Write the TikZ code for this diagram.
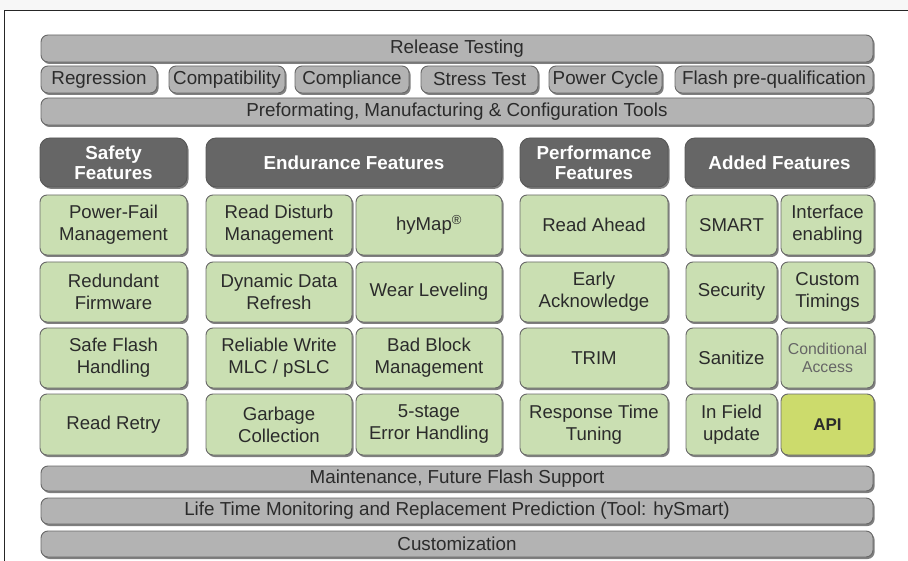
\documentclass[tikz,border=0pt]{standalone}
\usepackage{fontspec}
\setmainfont{Liberation Sans}
\usetikzlibrary{shadows}
\definecolor{barfill}{HTML}{B3B3B3}
\definecolor{barline}{HTML}{686868}
\definecolor{hdrfill}{HTML}{666666}
\definecolor{grnfill}{HTML}{CADFB2}
\definecolor{apifill}{HTML}{CCDB6C}
\definecolor{txt}{HTML}{2B2B2B}
\definecolor{lighttxt}{HTML}{666666}
\tikzset{
  base/.style={draw=barline, line width=0.9pt, rounded corners=7pt, inner sep=0pt, align=center, text=txt,
    drop shadow={shadow xshift=1.6pt, shadow yshift=-2pt, fill=black, opacity=0.5}},
  bar/.style={base, fill=barfill, font=\fontsize{18.8}{20}\selectfont},
  hdr/.style={base, fill=hdrfill, draw=hdrfill!85!black, rounded corners=10pt, text=white,
    font=\bfseries\fontsize{18.8}{20}\selectfont},
  grn/.style={base, fill=grnfill, font=\fontsize{18.6}{22}\selectfont},
  apibox/.style={grn, fill=apifill, font=\bfseries\fontsize{17}{18}\selectfont},
  dimtext/.style={font=\fontsize{15.8}{17.5}\selectfont, text=lighttxt},
}
\newcommand\boxat[7]{\node[#1, minimum width={(#5-#3)*1pt}, minimum height={(#6-#4)*1pt}] (#2) at ({(#3+#5)/2},{(#4+#6)/2}) {#7};}
\begin{document}
\begin{tikzpicture}[x=1pt,y=-1pt]
\useasboundingbox (0,0) rectangle (908,561);
\fill[black!3] (0,0) rectangle (908,10.5);
\draw[line width=1pt, black!85] (4.5,561) -- (4.5,11) -- (908,11);
% top bars
\boxat{bar}{rel}{41}{35}{873}{62}{Release Testing}
\boxat{bar}{reg}{41}{66}{157}{93}{Regression}
\boxat{bar}{compat}{169}{66}{285}{93}{Compatibility}
\boxat{bar}{compl}{295}{66}{409}{93}{Compliance}
\boxat{bar}{stress}{421}{66}{538}{93}{Stress Test}
\boxat{bar}{power}{549}{66}{662}{93}{Power Cycle}
\boxat{bar}{flash}{675}{66}{873}{93}{Flash pre-qualification}
\boxat{bar}{pre}{41}{98}{873}{125}{Preformating, Manufacturing \& Configuration Tools}
% headers
\boxat{hdr}{safety}{40}{138}{187}{187}{Safety\\Features}
\boxat{hdr}{endur}{206}{138}{502}{187}{Endurance Features}
\boxat{hdr}{perf}{520}{138}{668}{187}{Performance\\Features}
\boxat{hdr}{added}{685}{138}{874}{187}{Added Features}
% row 1
\boxat{grn}{pf}{40}{195}{187}{255}{Power-Fail\\Management}
\boxat{grn}{rd}{206}{195}{352}{255}{Read Disturb\\Management}
\boxat{grn}{hymap}{356}{195}{502}{255}{hyMap\textsuperscript{®}}
\boxat{grn}{ra}{520}{195}{668}{255}{Read Ahead}
\boxat{grn}{smart}{686}{195}{777}{255}{SMART}
\boxat{grn}{iface}{781}{195}{874}{255}{Interface\\enabling}
% row 2
\boxat{grn}{rf}{40}{262}{187}{322}{Redundant\\Firmware}
\boxat{grn}{ddr}{206}{262}{352}{322}{Dynamic Data\\Refresh}
\boxat{grn}{wl}{356}{262}{502}{322}{Wear Leveling}
\boxat{grn}{ea}{520}{262}{668}{322}{Early\\Acknowledge}
\boxat{grn}{sec}{686}{262}{777}{322}{Security}
\boxat{grn}{ct}{781}{262}{874}{322}{Custom\\Timings}
% row 3
\boxat{grn}{sfh}{40}{328}{187}{388}{Safe Flash\\Handling}
\boxat{grn}{rw}{206}{328}{352}{388}{Reliable Write\\MLC / pSLC}
\boxat{grn}{bb}{356}{328}{502}{388}{Bad Block\\Management}
\boxat{grn}{trim}{520}{328}{668}{388}{TRIM}
\boxat{grn}{san}{686}{328}{777}{388}{Sanitize}
\boxat{grn, dimtext}{ca}{781}{328}{874}{388}{Conditional\\Access}
% row 4
\boxat{grn}{rr}{40}{394}{187}{455}{Read Retry}
\boxat{grn}{gc}{206}{394}{352}{455}{Garbage\\Collection}
\boxat{grn}{eh}{356}{394}{502}{455}{5-stage\\Error Handling}
\boxat{grn}{rt}{520}{394}{668}{455}{Response Time\\Tuning}
\boxat{grn}{ifu}{686}{394}{777}{455}{In Field\\update}
\boxat{apibox}{api}{781}{394}{874}{455}{API}
% bottom bars
\boxat{bar}{maint}{41}{466}{873}{491}{Maintenance, Future Flash Support}
\boxat{bar}{life}{41}{498}{873}{524}{Life Time Monitoring and Replacement Prediction (Tool: hySmart)}
\boxat{bar}{cust}{41}{531}{873}{557}{Customization}
\end{tikzpicture}
\end{document}
